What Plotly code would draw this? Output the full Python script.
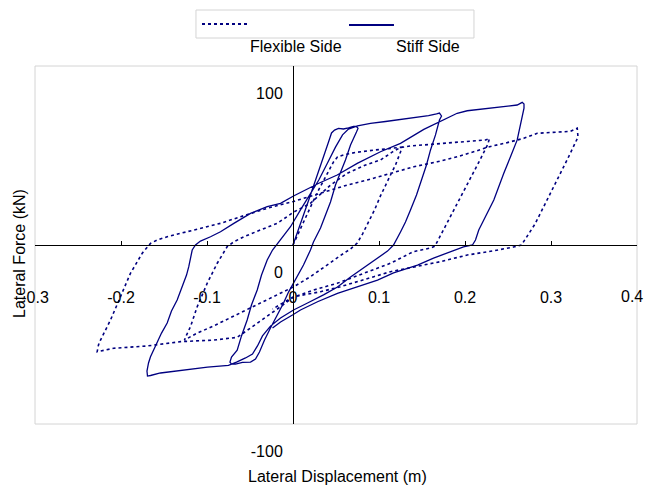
import plotly.graph_objects as go

# ---- Stiff side: lateral displacement (m) / lateral force (kN) ----
# cycle 1: initial loading, unloading and first negative excursion
stiff_c1_disp = [0, 0.0052, 0.0122, 0.0203, 0.0285, 0.0355, 0.0413, 0.0448, 0.0483, 0.0529,
                 0.0587, 0.0645, 0.0703, 0.0738, 0.0756,
                 0.0738, 0.0669, 0.0610, 0.0552, 0.0494, 0.0436, 0.0320, 0.0238, 0.0203, 0.0122,
                 0.0052, 0, -0.0052, -0.0110, -0.0192, -0.0262, -0.0331, -0.0390, -0.0436,
                 -0.0494, -0.0587, -0.0669, -0.0715, -0.0733]
stiff_c1_force = [0, 6.7, 16.8, 27.9, 39.1, 48.6, 57.5, 62.6, 64.2, 65.1,
                  64.8, 65.4, 66.2, 66.2, 65.1,
                  63.1, 55.9, 47.5, 40.8, 33.5, 24.0, 9.5, 1.7, -2.8, -11.2,
                  -17.3, -21.8, -26.3, -32.4, -39.7, -46.4, -53.1, -59.8, -63.7,
                  -65.4, -65.6, -66.5, -66.5, -65.4]

# cycle 2: reloading to the second peak and the second negative excursion
stiff_c2_disp = [-0.0715, -0.0649, -0.0599, -0.0533, -0.0483, -0.0416, -0.0366, -0.0300, -0.0238,
                 -0.0145, -0.0029, 0.0087, 0.0203, 0.0300, 0.0401, 0.0494, 0.0576, 0.0645,
                 0.0750, 0.0901, 0.1076, 0.1250, 0.1424, 0.1576, 0.1669, 0.1703, 0.1727,
                 0.1703, 0.1657, 0.1599, 0.1552, 0.1494, 0.1436, 0.1366, 0.1308, 0.1250, 0.1203,
                 0.1169, 0.1099, 0.1017, 0.0866, 0.0669, 0.0517, 0.0355, 0.0169, 0.0006,
                 -0.0145, -0.0262, -0.0355, -0.0413, -0.0471, -0.0552, -0.0657, -0.0750,
                 -0.0994, -0.1308, -0.1541, -0.1657, -0.1692]
stiff_c2_force = [-62.6, -58.7, -50.8, -41.9, -33.5, -25.1, -16.8, -8.4, -2.8,
                  2.8, 10.2, 19.6, 28.9, 36.3, 45.8, 54.7, 61.5, 64.8,
                  66.5, 67.9, 69.0, 70.1, 71.2, 72.3, 73.2, 73.7, 72.1,
                  69.8, 61.5, 53.1, 44.7, 36.3, 27.9, 19.6, 12.8, 7.3, 2.8,
                  0, -3.4, -6.1, -11.2, -17.9, -23.5, -27.9, -32.4, -36.3,
                  -40.8, -45.3, -50.8, -56.4, -60.9, -63.1, -65.4, -67.3,
                  -68.2, -70.1, -71.5, -72.9, -73.2]

# cycle 3: reloading to the largest peak and final unloading
stiff_c3_disp = [-0.1698, -0.1680, -0.1657, -0.1622, -0.1579, -0.1529, -0.1463, -0.1413, -0.1347,
                 -0.1308, -0.1270, -0.1238, -0.1212, -0.1192, -0.1172, -0.1134, -0.1076, -0.0959,
                 -0.0843, -0.0688, -0.0494, -0.0300, -0.0145, 0.0006, 0.0165, 0.0300, 0.0514,
                 0.0747, 0.1017, 0.1250, 0.1521, 0.1715, 0.1909, 0.2026, 0.2180, 0.2413,
                 0.2607, 0.2665, 0.2686,
                 0.2686, 0.2665, 0.2607, 0.2529, 0.2451, 0.2335, 0.2238, 0.2160, 0.2122, 0.2087,
                 0.1983, 0.1831, 0.1634, 0.1448, 0.1169, 0.0983, 0.0750, 0.0517, 0.0285,
                 0.0087, -0.0006, -0.0145, -0.0238]
stiff_c3_force = [-70.4, -65.9, -62.4, -58.7, -54.7, -49.2, -43.6, -36.9, -30.7,
                  -25.7, -21.2, -16.8, -12.1, -7.3, -2.8, 0, 2.2, 4.6,
                  7.4, 12.1, 17.7, 21.4, 23.3, 27.4, 31.3, 34.5, 39.1,
                  45.6, 52.1, 56.8, 64.6, 68.9, 73.6, 75.0, 75.8, 76.9,
                  78.2, 79.7, 78.8,
                  76.5, 71.7, 58.7, 49.3, 40.1, 25.1, 15.8, 8.4, 2.8, 0,
                  -1.1, -3.9, -7.3, -11.2, -15.6, -19.6, -23.5, -27.0, -31.7,
                  -36.3, -39.1, -43.0, -46.4]

# ---- Flexible side ----
flex_c1_disp = [0, 0.0052, 0.0122, 0.0203, 0.0297, 0.0390, 0.0471, 0.0517,
                0.0610, 0.0727, 0.0843, 0.0959, 0.1076, 0.1192, 0.1267,
                0.1250, 0.1192, 0.1134, 0.1076, 0.1017, 0.0948, 0.0878, 0.0808, 0.0747,
                0.0669, 0.0591, 0.0398, 0.0203, 0.0009, -0.0184, -0.0378, -0.0610, -0.0901,
                -0.1134, -0.1227, -0.1262]
flex_c1_force = [0, 5.6, 12.8, 21.2, 30.7, 39.1, 46.4, 49.2,
                 50.6, 51.7, 52.5, 53.1, 53.6, 54.2, 54.7,
                 52.0, 44.7, 39.1, 33.5, 27.4, 19.6, 12.8, 6.1, 1.1,
                 -2.2, -4.6, -11.2, -17.7, -23.3, -27.9, -32.6, -38.0, -44.7,
                 -49.7, -52.0, -53.1]

flex_c2_disp = [-0.1238, -0.1192, -0.1114, -0.0998, -0.0881, -0.0765, -0.0688, -0.0572, -0.0378,
                -0.0184, 0.0009, 0.0203, 0.0436, 0.0630, 0.0843, 0.1017, 0.1157, 0.1250,
                0.1366, 0.1599, 0.1831, 0.2064, 0.2238, 0.2285,
                0.2262, 0.2174, 0.2041, 0.1913, 0.1785, 0.1669, 0.1651,
                0.1599, 0.1401, 0.1134, 0.0823, 0.0514, 0.0242, 0.0006, -0.0145, -0.0300,
                -0.0416, -0.0533, -0.0649, -0.0921, -0.1308, -0.1695, -0.2084, -0.2277]
flex_c2_force = [-50.3, -45.6, -34.5, -21.4, -10.2, -0.9, 1.8, 4.6, 8.4,
                 12.1, 18.4, 23.3, 33.5, 40.1, 44.7, 47.5, 52.0, 54.5,
                 55.3, 56.1, 57.0, 57.8, 58.7, 59.5,
                 55.9, 47.5, 35.2, 23.5, 11.7, 1.1, -0.6,
                 -1.7, -3.7, -10.2, -15.8, -21.4, -25.1, -29.1, -34.5, -39.7,
                 -43.7, -47.5, -51.6, -53.1, -54.0, -56.4, -57.7, -59.6]

flex_c3_disp = [-0.2262, -0.2238, -0.2122, -0.2006, -0.1890, -0.1753, -0.1657,
                -0.1579, -0.1463, -0.1308, -0.1076, -0.0843, -0.0610, -0.0300, -0.0002, 0.0320,
                0.0630, 0.0863, 0.1134, 0.1405, 0.1677, 0.1909, 0.2142, 0.2258, 0.2491,
                0.2684, 0.2840, 0.3033, 0.3227, 0.3305,
                0.3314, 0.3198, 0.3070, 0.2942, 0.2814, 0.2657,
                0.2564, 0.2335, 0.2026, 0.1715, 0.1405, 0.1134, 0.0940, 0.0747, 0.0552,
                0.0320, 0.0087, 0.0009, -0.0126, -0.0238]
flex_c3_force = [-55.9, -53.1, -41.9, -28.9, -15.8, -4.6, 0.9,
                 2.8, 4.6, 6.5, 9.3, 12.1, 15.8, 20.5, 24.2, 28.9,
                 33.5, 36.3, 40.1, 43.7, 46.5, 49.3, 52.7, 54.6, 57.2,
                 59.6, 62.4, 63.0, 63.5, 65.2,
                 60.3, 48.6, 36.3, 24.0, 11.7, 0,
                 -1.1, -3.2, -5.6, -9.3, -12.1, -14.9, -17.7, -20.5, -23.3,
                 -26.1, -27.9, -28.9, -32.6, -35.8]

x_ticks = [-0.3, -0.2, -0.1, 0, 0.1, 0.2, 0.3, 0.4]
x_tick_text = ["-0.3", "-0.2", "-0.1", "0", "0.1", "0.2", "0.3", "0.4"]
y_ticks = [-100, 0, 100]
y_tick_text = ["-100", "0", "100"]

NAVY = "#000080"
FONT = "Liberation Sans, Arial, sans-serif"

fig = go.Figure()
fig.add_trace(go.Scatter(
    x=flex_c1_disp + flex_c2_disp + flex_c3_disp,
    y=flex_c1_force + flex_c2_force + flex_c3_force,
    mode="lines", name="Flexible Side",
    line=dict(color=NAVY, width=1.6, dash="dot"),
))
fig.add_trace(go.Scatter(
    x=stiff_c1_disp + stiff_c2_disp + stiff_c3_disp,
    y=stiff_c1_force + stiff_c2_force + stiff_c3_force,
    mode="lines", name="Stiff Side",
    line=dict(color=NAVY, width=1.3),
))

x_min, x_max = -0.3, 0.4
# the last x label sits at the right edge of the page, so it is drawn
# right-aligned as an annotation instead of as a centred tick label
axis_text = x_tick_text[:-1] + [""]

fig.update_layout(
    width=646, height=489,
    margin=dict(l=35, r=9, t=66, b=65, autoexpand=False),
    plot_bgcolor="white", paper_bgcolor="white",
    showlegend=False,
    font=dict(family=FONT, size=16, color="black"),
    xaxis=dict(
        range=[x_min, x_max], tickvals=x_ticks, ticktext=axis_text,
        showgrid=False, zeroline=False, showline=True, linecolor="black", linewidth=1,
        ticks="inside", ticklen=4, tickcolor="black",
        anchor="free", position=0.5, ticklabelstandoff=38,
        ticklabeloverflow="allow", automargin=False,
    ),
    yaxis=dict(
        range=[-100, 100], tickvals=y_ticks, ticktext=y_tick_text,
        showgrid=False, zeroline=False, showline=True, linecolor="black", linewidth=1,
        ticks="inside", ticklen=4, tickcolor="black",
        anchor="free", position=(0 - x_min) / (x_max - x_min),
        ticklabelshift=27, ticklabelstandoff=7,
        ticklabeloverflow="allow", automargin=False,
    ),
)
fig.add_annotation(text=x_tick_text[-1], xref="x", yref="paper", x=x_ticks[-1], y=(424 - 296) / 358,
                   xanchor="right", yanchor="middle", xshift=8, showarrow=False,
                   font=dict(size=16))

# plot-area frame
fig.add_shape(type="rect", xref="paper", yref="paper", x0=0, x1=1, y0=0, y1=1,
              line=dict(color="#d4d4d4", width=1), layer="below")

# legend box with line samples and captions underneath
fig.add_shape(type="rect", xref="paper", yref="paper", x0=0.2674, x1=0.7292, y0=1.0782, y1=1.1564,
              line=dict(color="#d4d4d4", width=1), fillcolor="white")
fig.add_shape(type="line", xref="paper", yref="paper", x0=0.2774, x1=0.3522, y0=1.1173, y1=1.1173,
              line=dict(color=NAVY, width=2.2, dash="dot"))
fig.add_shape(type="line", xref="paper", yref="paper", x0=0.5216, x1=0.5963, y0=1.1145, y1=1.1145,
              line=dict(color=NAVY, width=2))
fig.add_annotation(text="Flexible Side", xref="paper", yref="paper", x=0.4336, y=1.0531,
                   xanchor="center", yanchor="middle", showarrow=False, font=dict(size=16))
fig.add_annotation(text="Stiff Side", xref="paper", yref="paper", x=0.6528, y=1.0531,
                   xanchor="center", yanchor="middle", showarrow=False, font=dict(size=16))

# axis titles
fig.add_annotation(text="Lateral Displacement (m)", xref="paper", yref="paper", x=0.5033, y=-0.148,
                   xanchor="center", yanchor="middle", showarrow=False, font=dict(size=16))
fig.add_annotation(text="Lateral Force (kN)", xref="paper", yref="paper", x=-0.0249, y=0.4749,
                   xanchor="center", yanchor="middle", textangle=-90, showarrow=False,
                   font=dict(size=16))

fig.write_html("out.html")
